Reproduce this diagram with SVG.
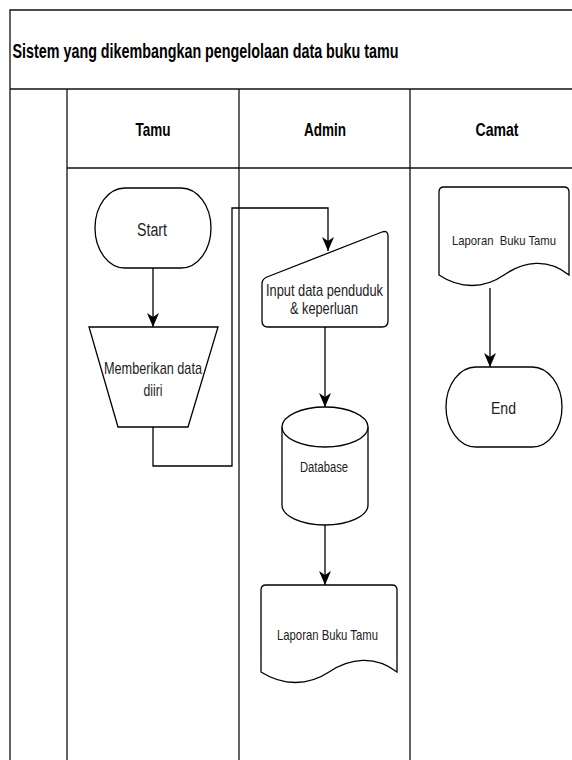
<svg xmlns="http://www.w3.org/2000/svg" width="572" height="760" viewBox="0 0 572 760">
<style>
.frame{fill:none;stroke:#111;stroke-width:1.3}
.shape{fill:#fff;stroke:#000;stroke-width:1.3}
.edge{fill:none;stroke:#000;stroke-width:1.3}
.t{font-family:"Liberation Sans",Arial,sans-serif;fill:#222;text-anchor:middle}
.h{font-family:"Liberation Sans",Arial,sans-serif;font-weight:bold;fill:#000}
</style>
<defs>
<marker id="arr" viewBox="0 0 14 12" refX="14" refY="6" markerWidth="14" markerHeight="12" markerUnits="userSpaceOnUse" orient="auto">
<path d="M0,0 L14,6 L0,12 L4,6 Z" fill="#000"/>
</marker>
</defs>
<rect width="572" height="760" fill="#fff"/>
<g id="pool">
<path class="frame" d="M10,760 L10,10 L572,10 M10,89 L572,89 M67,89 L67,760 M67,168 L572,168 M239,89 L239,760 M410,89 L410,760"/>
<text class="h" x="12.5" y="58" font-size="20" textLength="386" lengthAdjust="spacingAndGlyphs">Sistem yang dikembangkan pengelolaan data buku tamu</text>
</g>
<g id="lane-tamu"><text class="h" x="153" y="136" font-size="19" text-anchor="middle" textLength="35" lengthAdjust="spacingAndGlyphs">Tamu</text></g>
<g id="lane-admin"><text class="h" x="325" y="136" font-size="19" text-anchor="middle" textLength="42" lengthAdjust="spacingAndGlyphs">Admin</text></g>
<g id="lane-camat"><text class="h" x="497" y="136" font-size="19" text-anchor="middle" textLength="43" lengthAdjust="spacingAndGlyphs">Camat</text></g>
<g id="connectors">
<path class="edge" d="M153,268 L153,327" marker-end="url(#arr)"/>
<path class="edge" d="M153,427 L153,466 L232,466 L232,208 L328,208 L328,251" marker-end="url(#arr)"/>
<path class="edge" d="M325,327 L325,407" marker-end="url(#arr)"/>
<path class="edge" d="M325,525 L325,585" marker-end="url(#arr)"/>
<path class="edge" d="M490,288 L490,367" marker-end="url(#arr)"/>
</g>
<g id="start">
<rect class="shape" x="95" y="188" width="116" height="80" rx="30" ry="40"/>
<text class="t" x="152" y="236" font-size="18" textLength="30" lengthAdjust="spacingAndGlyphs">Start</text>
</g>
<g id="memberikan">
<path class="shape" d="M89,327 L218,327 L188,427 L118,427 Z"/>
<text class="t" x="153" y="374" font-size="17" textLength="98" lengthAdjust="spacingAndGlyphs">Memberikan data</text>
<text class="t" x="153" y="396" font-size="17" textLength="19" lengthAdjust="spacingAndGlyphs">diiri</text>
</g>
<g id="input">
<path class="shape" d="M262,284 Q262,279 267,277 L382,232 Q388,230 388,236 L388,321 Q388,327 382,327 L268,327 Q262,327 262,321 Z"/>
<text class="t" x="324.5" y="296" font-size="17" textLength="117" lengthAdjust="spacingAndGlyphs">Input data penduduk</text>
<text class="t" x="324" y="314" font-size="17" textLength="68" lengthAdjust="spacingAndGlyphs">&amp; keperluan</text>
</g>
<g id="database">
<path class="shape" d="M282,427 A43,20 0 0 1 368,427 L368,505 A43,20 0 0 1 282,505 Z"/>
<path class="shape" d="M282,427 A43,20 0 0 0 368,427" fill="none"/>
<text class="t" x="324" y="472" font-size="14" textLength="48" lengthAdjust="spacingAndGlyphs">Database</text>
</g>
<g id="laporan-admin">
<path class="shape" d="M261,590 Q261,585 266,585 L392,585 Q397,585 397,590 L397,672 C375,655 350,658 329,672 C308,686 283,686 261,672 Z"/>
<text class="t" x="327.5" y="640" font-size="15" textLength="101" lengthAdjust="spacingAndGlyphs">Laporan Buku Tamu</text>
</g>
<g id="laporan-camat">
<path class="shape" d="M439,192 Q439,187 444,187 L564,187 Q569,187 569,192 L569,275 C548,258 524,261 504,275 C484,289 460,289 439,275 Z"/>
<text class="t" x="504" y="245" font-size="13" textLength="104" lengthAdjust="spacingAndGlyphs" xml:space="preserve">Laporan  Buku Tamu</text>
</g>
<g id="end">
<rect class="shape" x="446" y="367" width="116" height="80" rx="30" ry="40"/>
<text class="t" x="503.5" y="414" font-size="17" textLength="25" lengthAdjust="spacingAndGlyphs">End</text>
</g>
</svg>
